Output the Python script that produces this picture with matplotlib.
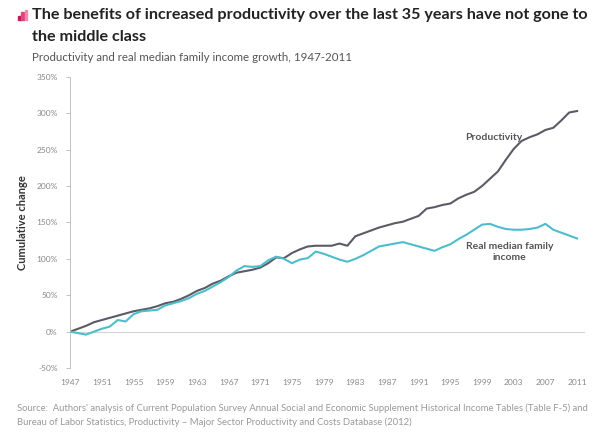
import numpy as np
import matplotlib.pyplot as plt
from matplotlib.patches import Rectangle

years = np.arange(1947, 2012)

# cumulative change since 1947, percent
productivity = [0, 4, 8, 13, 16, 19, 22, 25, 28, 30, 32, 35, 39, 41, 45, 50,
                56, 60, 66, 70, 76, 81, 83, 85, 88, 94, 102, 101, 108, 113,
                117, 118, 118, 118, 121, 118, 131, 135, 139, 143, 146, 149,
                151, 155, 159, 169, 171, 174, 176, 183, 188, 192, 200, 210,
                220, 236, 251, 262, 267, 271, 277, 280, 290, 301, 303]
income = [0, -2, -4, 0, 4, 7, 16, 14, 24, 28, 29, 30, 36, 39, 42, 46, 52,
          56, 62, 68, 75, 84, 90, 89, 90, 98, 103, 100, 94, 99, 101, 110,
          107, 103, 99, 96, 100, 105, 111, 117, 119, 121, 123, 120, 117,
          114, 111, 116, 120, 127, 133, 140, 147, 148, 144, 141, 140, 140,
          141, 143, 148, 140, 136, 132, 128]

xticks = list(range(1947, 2012, 4))
yticks = list(range(-50, 351, 50))

gray_prod = "#5b5b66"
teal = "#4dbdcc"
light = "#b8b8b8"

plt.rcParams["font.family"] = ["Lato", "DejaVu Sans"]

fig = plt.figure(figsize=(6, 4.44), dpi=100)
ax = fig.add_axes([0.117, 0.171, 0.858, 0.656])

ax.plot(years, productivity, color=gray_prod, lw=1.5)
ax.plot(years, income, color=teal, lw=1.5)
ax.axhline(0, color="#d5d5d5", lw=0.8, zorder=0)

ax.set_xlim(1947, 2012)
ax.set_ylim(-50, 350)
ax.set_xticks(xticks)
ax.set_xticklabels([str(y) for y in xticks], fontsize=6, color="#888888")
ax.set_yticks(yticks)
ax.set_yticklabels([f"{v}%" for v in yticks], fontsize=6, color="#888888")
ax.tick_params(axis="x", length=0, pad=8)
ax.tick_params(axis="y", length=3, color=light, width=0.6, pad=6)
for s in ["top", "right", "bottom"]:
    ax.spines[s].set_visible(False)
ax.spines["left"].set_color(light)
ax.spines["left"].set_linewidth(0.6)

ax.set_ylabel("Cumulative change", fontsize=8, fontweight="bold",
              color="#333333", labelpad=6)

ax.text(2000.5, 266, "Productivity", fontsize=7.5, color="#555555",
        fontweight="bold", ha="center", va="center")
ax.text(2002.5, 110, "Real median family\nincome", fontsize=7.5,
        color="#555555", fontweight="bold", ha="center", va="center",
        linespacing=1.3)

# small bar-chart icon next to the title
for i, (h, c) in enumerate([(0.45, "#c2185b"), (0.8, "#e0457b"), (1.0, "#f08bb0")]):
    fig.patches.append(Rectangle((0.030 + i * 0.0055, 0.955), 0.0045, 0.022 * h,
                                 transform=fig.transFigure, color=c))

fig.text(0.053, 0.966, "The benefits of increased productivity over the last 35 years have not gone to",
         fontsize=11.6, fontweight="bold", color="#222222", va="center", ha="left")
fig.text(0.053, 0.917, "the middle class",
         fontsize=11.6, fontweight="bold", color="#222222", va="center", ha="left")
fig.text(0.053, 0.871, "Productivity and real median family income growth, 1947-2011",
         fontsize=8.3, color="#555555", va="center")

fig.text(0.028, 0.065,
         "Source:  Authors' analysis of Current Population Survey Annual Social and Economic Supplement Historical Income Tables (Table F-5) and\n"
         "Bureau of Labor Statistics, Productivity \u2013 Major Sector Productivity and Costs Database (2012)",
         fontsize=6.8, color="#999999", va="center", linespacing=1.5)

fig.savefig("out.png", dpi=100)
